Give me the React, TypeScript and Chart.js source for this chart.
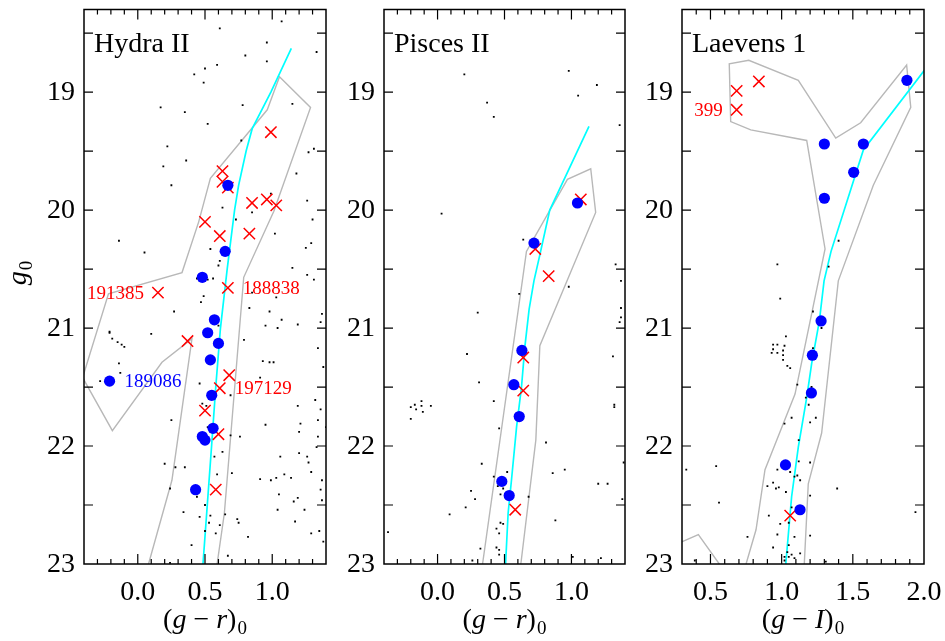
import React, { useEffect, useRef } from 'react';
import { Chart, registerables } from 'chart.js';

Chart.register(...registerables);

type P = [number, number]; // [colour index, g0]

const SERIF = "'Liberation Serif', 'DejaVu Serif', serif";
const RED = '#ff0000';
const BLUE = '#0000ff';

// ---- axis tick labels ----
const yTickLabels = [19, 20, 21, 22, 23];
const grTickLabels = [0.0, 0.5, 1.0];
const giTickLabels = [0.5, 1.0, 1.5, 2.0];

// ---- Hydra II ----
const hydraField: P[] = [
  [0.61,18.46],[1.07,18.40],[0.96,18.58],[1.33,18.66],[0.80,18.69],[0.96,18.74],[0.59,18.77],[0.50,18.80],[0.42,18.85],[0.49,18.92],
  [0.17,19.13],[0.78,19.11],[1.15,19.10],[0.35,19.17],[0.52,19.27],[0.22,19.46],[0.77,19.41],[1.27,19.51],[1.31,19.48],[0.19,19.63],
  [0.36,19.58],[0.25,19.79],[1.18,19.69],[0.99,19.86],[0.85,20.02],[1.26,19.92],[0.63,19.98],[0.73,20.08],[1.30,20.08],[1.02,20.20],
  [-0.14,20.26],[0.05,20.36],[0.54,20.33],[0.61,20.43],[0.60,20.47],[1.25,20.32],[1.29,20.28],[1.15,20.49],[1.26,20.55],[1.31,20.59],
  [0.44,20.58],[0.52,20.59],[0.56,20.58],[0.49,20.73],[0.85,20.70],[1.03,20.74],[0.47,20.78],[0.27,20.86],[0.83,20.83],[0.98,20.86],
  [1.07,20.93],[1.19,20.97],[1.37,20.88],[1.36,20.95],[0.95,20.98],[1.04,21.00],[0.60,20.98],[-0.21,21.03],[-0.21,21.04],[0.10,21.05],
  [-0.19,21.09],[-0.15,21.12],[-0.12,21.14],[-0.10,21.16],[0.79,21.10],[1.34,21.17],[0.93,21.28],[0.98,21.29],[1.01,21.29],[1.38,21.33],
  [-0.14,21.30],[-0.13,21.38],[-0.28,21.45],[0.91,21.42],[0.46,21.47],[0.69,21.57],[1.32,21.61],[1.36,21.69],[0.48,21.64],[0.51,21.66],
  [1.19,21.66],[0.25,21.78],[0.95,21.82],[1.21,21.81],[1.34,21.78],[1.40,21.84],[1.20,21.88],[0.52,21.84],[0.69,21.91],[0.76,21.92],
  [1.34,21.92],[1.33,22.01],[0.63,22.05],[1.20,22.06],[1.26,22.09],[1.27,22.14],[1.06,22.09],[0.57,22.09],[0.20,22.15],[0.28,22.18],
  [0.35,22.18],[0.70,22.23],[0.59,22.24],[1.29,22.22],[1.09,22.24],[0.91,22.28],[0.99,22.29],[1.03,22.27],[1.14,22.27],[1.37,22.29],
  [0.24,22.36],[1.36,22.37],[0.44,22.43],[1.05,22.41],[1.16,22.47],[1.19,22.44],[1.37,22.46],[0.50,22.50],[1.04,22.54],[1.24,22.54],
  [0.34,22.56],[0.46,22.60],[0.65,22.58],[0.74,22.62],[0.75,22.65],[0.54,22.59],[0.53,22.65],[1.17,22.64],[0.61,22.67],[0.50,22.72],
  [0.58,22.74],[0.82,22.77],[1.29,22.74],[1.35,22.72],[0.40,22.84],[1.38,22.81],[0.67,22.93],[0.24,22.99]
];
const hydraMembers: P[] = [
  [0.67,19.79],[0.65,20.35],[0.48,20.57],[0.57,20.93],[0.52,21.04],[0.60,21.13],[0.54,21.27],[-0.21,21.45],
  [0.55,21.57],[0.56,21.85],[0.48,21.92],[0.50,21.95],[0.43,22.37]
];
const hydraOthers: P[] = [
  [0.99,19.34],[0.63,19.67],[0.63,19.76],[0.67,19.81],[0.85,19.94],[0.96,19.91],[1.03,19.96],[0.50,20.10],[0.61,20.22],
  [0.83,20.20],[0.67,20.66],[0.15,20.70],[0.37,21.11],[0.68,21.40],[0.61,21.51],[0.50,21.70],[0.60,21.90],[0.58,22.37]
];
const hydraIsochrone: P[] = [
  [1.142,18.63],[0.99,19.0],[0.851,19.31],[0.806,19.5],[0.75,19.79],[0.72,20.0],[0.665,20.5],[0.615,21.0],
  [0.58,21.5],[0.549,22.0],[0.517,22.5],[0.485,23.0]
];
const hydraBox: P[] = [
  [0.590,23.0],[0.644,22.57],[0.788,20.57],[1.012,20.01],[1.285,19.13],[1.054,18.87],[0.963,19.15],[0.540,19.73],
  [0.453,20.10],[0.329,20.53],[-0.218,20.71],[-0.41,21.42],[-0.189,21.87],[0.180,21.29],[0.403,21.09],[0.254,22.29],[0.080,23.0]
];
const hydraLabels = [
  { text: '191385', x: 0.15, y: 20.70, side: 'left', color: RED },
  { text: '188838', x: 0.67, y: 20.66, side: 'right', color: RED },
  { text: '189086', x: -0.21, y: 21.45, side: 'right', color: BLUE },
  { text: '197129', x: 0.61, y: 21.51, side: 'right', color: RED }
];

// ---- Pisces II ----
const piscesField: P[] = [
  [0.20,18.85],[0.98,18.82],[1.19,18.94],[1.05,19.03],[0.37,19.09],[0.42,19.21],[1.36,19.28],[0.03,20.03],[0.64,20.25],[1.33,20.46],
  [1.37,20.60],[0.98,20.65],[0.61,20.71],[1.37,20.83],[1.37,20.91],[1.36,20.95],[0.30,20.87],[0.22,21.22],[1.31,21.24],[0.31,21.46],
  [0.42,21.62],[-0.20,21.67],[-0.17,21.65],[-0.16,21.69],[-0.12,21.66],[-0.12,21.62],[-0.11,21.71],[-0.05,21.66],[-0.20,21.77],[1.32,21.65],
  [1.32,21.67],[0.46,21.85],[0.81,21.97],[0.33,22.15],[1.39,22.14],[0.52,22.22],[0.86,22.23],[0.95,22.20],[0.42,22.26],[0.45,22.34],
  [0.49,22.36],[0.47,22.41],[1.20,22.32],[1.27,22.32],[0.25,22.38],[0.28,22.45],[0.68,22.43],[1.38,22.45],[0.21,22.52],[0.09,22.58],
  [0.88,22.63],[-0.37,22.73],[0.47,22.65],[0.49,22.66],[0.44,22.70],[0.46,22.74],[0.32,22.87],[0.44,22.86],[0.46,22.88],[0.46,22.92],
  [0.26,22.97],[1.01,22.94],[1.22,22.95]
];
const piscesMembers: P[] = [
  [1.045,19.94],[0.72,20.28],[0.63,21.19],[0.57,21.48],[0.61,21.75],[0.48,22.30],[0.535,22.42]
];
const piscesOthers: P[] = [
  [1.07,19.91],[0.73,20.33],[0.83,20.56],[0.64,21.25],[0.64,21.53],[0.58,22.54]
];
const piscesIsochrone: P[] = [
  [1.131,19.29],[0.838,20.0],[0.764,20.38],[0.72,20.6],[0.684,20.84],[0.652,21.16],[0.627,21.5],[0.59,21.84],
  [0.552,22.29],[0.527,22.57],[0.508,23.0]
];
const piscesBox: P[] = [
  [0.336,23.0],[0.664,20.35],[0.970,19.74],[1.144,19.65],[1.181,20.02],[0.764,21.15],[0.734,21.95],[0.622,23.0]
];

// ---- Laevens 1 ----
const laevensField: P[] = [
  [1.40,20.26],[0.97,20.46],[1.33,20.48],[0.99,20.75],[1.22,20.86],[1.03,21.07],[1.28,21.00],[0.94,21.14],[0.97,21.14],[1.02,21.15],
  [0.94,21.18],[1.01,21.19],[0.93,21.21],[0.97,21.21],[1.01,21.23],[1.01,21.27],[1.04,21.32],[1.06,21.34],[1.22,21.17],[1.11,21.48],
  [1.21,21.50],[1.17,21.59],[1.19,21.65],[1.07,21.76],[1.02,21.81],[1.24,21.76],[1.20,21.80],[1.12,21.95],[1.12,22.13],[1.20,22.14],
  [0.33,22.20],[0.54,22.17],[0.97,22.20],[1.06,22.22],[1.09,22.26],[1.11,22.25],[1.13,22.29],[0.90,22.34],[0.94,22.31],[0.96,22.36],
  [0.98,22.35],[1.03,22.39],[1.39,22.36],[1.20,22.42],[0.56,22.48],[1.07,22.52],[0.91,22.59],[1.05,22.65],[0.99,22.66],[1.94,22.56],
  [1.09,22.77],[0.97,22.75],[1.20,22.76],[0.76,22.77],[1.05,22.84],[0.94,22.86],[1.13,22.91],[1.07,22.92],[1.04,22.90],[1.02,22.94],
  [1.05,22.94],[1.09,22.95],[1.02,22.97],[1.31,22.98],[0.39,22.97]
];
const laevensMembers: P[] = [
  [1.88,18.90],[1.30,19.44],[1.574,19.44],[1.506,19.68],[1.30,19.90],[1.277,20.94],[1.216,21.23],[1.209,21.55],[1.027,22.16],[1.129,22.54]
];
const laevensOthers: P[] = [
  [0.84,18.91],[0.684,18.99],[0.684,19.15],[1.06,22.59]
];
const laevensIsochrone: P[] = [
  [2.1,18.66],[2.0,18.82],[1.574,19.49],[1.347,20.35],[1.298,20.6],[1.265,20.94],[1.211,21.3],[1.176,21.59],
  [1.117,22.01],[1.070,22.43],[1.029,23.0]
];
const laevensBox: P[] = [
  [0.750,23.0],[0.820,22.71],[0.883,22.20],[1.094,21.56],[1.305,20.33],[1.176,19.41],[0.783,19.32],[0.642,19.25],
  [0.632,18.76],[0.769,18.73],[1.117,18.90],[1.380,19.39],[1.555,19.26],[1.878,18.77],[1.907,19.13],[1.644,19.79],
  [1.398,20.60],[1.281,21.89],[1.187,22.32],[1.159,23.0]
];
const laevensBox2: P[] = [
  [0.2,22.865],[0.415,22.75],[0.562,23.0]
];
const laevensLabels = [
  { text: '399', x: 0.684, y: 19.15, side: 'left', color: RED }
];

interface Label { text: string; x: number; y: number; side: string; color: string; }
interface Panel {
  name: string; xMin: number; xMax: number; xTicks: number[]; xVar: string;
  field: P[]; members: P[]; others: P[]; iso: P[]; boxes: P[][]; labels: Label[];
  yTitle: boolean; left: number; width: number; yAxisWidth: number; padRight: number;
}

const panels: Panel[] = [
  { name: 'Hydra II', xMin: -0.4, xMax: 1.4, xTicks: grTickLabels, xVar: 'r', field: hydraField, members: hydraMembers,
    others: hydraOthers, iso: hydraIsochrone, boxes: [hydraBox], labels: hydraLabels, yTitle: true,
    left: 0, width: 340, yAxisWidth: 84, padRight: 14 },
  { name: 'Pisces II', xMin: -0.4, xMax: 1.4, xTicks: grTickLabels, xVar: 'r', field: piscesField, members: piscesMembers,
    others: piscesOthers, iso: piscesIsochrone, boxes: [piscesBox], labels: [], yTitle: false,
    left: 340, width: 300, yAxisWidth: 44, padRight: 15 },
  { name: 'Laevens 1', xMin: 0.3, xMax: 2.0, xTicks: giTickLabels, xVar: 'I', field: laevensField, members: laevensMembers,
    others: laevensOthers, iso: laevensIsochrone, boxes: [laevensBox, laevensBox2], labels: laevensLabels, yTitle: false,
    left: 640, width: 305, yAxisWidth: 42, padRight: 21 }
];

const Y_MIN = 18.3;
const Y_MAX = 23.0;

function makeDecor(p: Panel) {
  return {
    id: 'decor',
    afterDatasetsDraw(chart: any) {
      const ctx: CanvasRenderingContext2D = chart.ctx;
      const a = chart.chartArea;
      const xs = chart.scales.x;
      const ys = chart.scales.y;
      ctx.save();

      // star labels
      ctx.font = `19px ${SERIF}`;
      ctx.textBaseline = 'middle';
      for (const l of p.labels) {
        const px = xs.getPixelForValue(l.x);
        const py = ys.getPixelForValue(l.y);
        ctx.fillStyle = l.color;
        if (l.side === 'left') {
          ctx.textAlign = 'right';
          ctx.fillText(l.text, px - 14, py + 1);
        } else {
          ctx.textAlign = 'left';
          ctx.fillText(l.text, px + 15, py + 1);
        }
      }

      // panel name
      ctx.fillStyle = '#000';
      ctx.font = `28px ${SERIF}`;
      ctx.textAlign = 'left';
      ctx.textBaseline = 'alphabetic';
      ctx.fillText(p.name, a.left + 10, a.top + 42);

      // frame
      ctx.strokeStyle = '#000';
      ctx.lineWidth = 1.5;
      ctx.strokeRect(a.left, a.top, a.right - a.left, a.bottom - a.top);

      // inward ticks
      ctx.lineWidth = 1.2;
      ctx.beginPath();
      const n = Math.round((p.xMax - p.xMin) / 0.1);
      for (let i = 1; i < n; i++) {
        const v = p.xMin + i * 0.1;
        const major = Math.abs(v * 2 - Math.round(v * 2)) < 1e-6;
        const len = major ? 10 : 5;
        const px = xs.getPixelForValue(v);
        ctx.moveTo(px, a.bottom); ctx.lineTo(px, a.bottom - len);
        ctx.moveTo(px, a.top); ctx.lineTo(px, a.top + len);
      }
      for (let v = 18.5; v < Y_MAX - 1e-6; v += 0.5) {
        const py = ys.getPixelForValue(v);
        ctx.moveTo(a.left, py); ctx.lineTo(a.left + 9, py);
        ctx.moveTo(a.right, py); ctx.lineTo(a.right - 9, py);
      }
      ctx.stroke();

      // tick labels
      ctx.fillStyle = '#000';
      ctx.font = `28px ${SERIF}`;
      ctx.textBaseline = 'middle';
      ctx.textAlign = 'right';
      for (const v of yTickLabels) ctx.fillText(String(v), a.left - 9, ys.getPixelForValue(v) + 1);
      ctx.textAlign = 'center';
      for (const v of p.xTicks) ctx.fillText(v.toFixed(1), xs.getPixelForValue(v), a.bottom + 29);

      // x title: (g − r)0
      ctx.textAlign = 'left';
      ctx.textBaseline = 'alphabetic';
      const parts = [
        { t: '(', f: `28px ${SERIF}` },
        { t: 'g', f: `italic 28px ${SERIF}` },
        { t: ' \u2212 ', f: `28px ${SERIF}` },
        { t: p.xVar, f: `italic 28px ${SERIF}` },
        { t: ')', f: `28px ${SERIF}` }
      ];
      const subFont = `19px ${SERIF}`;
      let total = 0;
      const widths = parts.map((q) => { ctx.font = q.f; const w = ctx.measureText(q.t).width; total += w; return w; });
      ctx.font = subFont;
      const subW = ctx.measureText('0').width;
      total += subW + 1;
      let x = (a.left + a.right) / 2 - total / 2;
      const base = a.bottom + 64;
      parts.forEach((q, i) => { ctx.font = q.f; ctx.fillText(q.t, x, base); x += widths[i]; });
      ctx.font = subFont;
      ctx.fillText('0', x + 1, base + 6);

      // y title: g0
      if (p.yTitle) {
        ctx.save();
        ctx.translate(26, 273);
        ctx.rotate(-Math.PI / 2);
        ctx.font = `italic 28px ${SERIF}`;
        const gw = ctx.measureText('g').width;
        ctx.font = subFont;
        const zw = ctx.measureText('0').width;
        const tw = gw + zw + 1;
        ctx.font = `italic 28px ${SERIF}`;
        ctx.fillText('g', -tw / 2, 0);
        ctx.font = subFont;
        ctx.fillText('0', -tw / 2 + gw + 1, 6);
        ctx.restore();
      }
      ctx.restore();
    }
  };
}

function PanelChart({ p }: { p: Panel }) {
  const ref = useRef<HTMLCanvasElement>(null);
  useEffect(() => {
    const canvas = ref.current;
    if (!canvas) return;
    const toXY = (arr: P[]) => arr.map(([x, y]) => ({ x, y }));
    const datasets: any[] = [];
    p.boxes.forEach((b) => datasets.push({
      data: toXY(b), showLine: true, borderColor: '#b8b8b8', borderWidth: 1.4,
      pointRadius: 0, tension: 0, order: 5, fill: false
    }));
    datasets.push({
      data: toXY(p.iso), showLine: true, borderColor: '#00ffff', borderWidth: 1.7,
      pointRadius: 0, tension: 0, order: 4, fill: false
    });
    datasets.push({
      data: toXY(p.field), pointStyle: 'rect', pointRadius: 1.3, backgroundColor: '#000',
      borderWidth: 0, order: 3
    });
    datasets.push({
      data: toXY(p.others), pointStyle: 'crossRot', pointRadius: 8, borderColor: RED,
      backgroundColor: RED, borderWidth: 1.5, order: 2
    });
    datasets.push({
      data: toXY(p.members), pointStyle: 'circle', pointRadius: 5.6, backgroundColor: BLUE,
      borderWidth: 0, order: 1
    });

    const chart = new Chart(canvas, {
      type: 'scatter',
      data: { datasets },
      options: {
        animation: false,
        responsive: false,
        events: [],
        layout: { padding: { left: 0, right: p.padRight, top: 7, bottom: 0 } },
        plugins: { legend: { display: false }, tooltip: { enabled: false } },
        scales: {
          x: {
            type: 'linear', position: 'bottom', min: p.xMin, max: p.xMax,
            grid: { display: false, drawTicks: false }, border: { display: false },
            ticks: { display: false },
            afterBuildTicks: (s: any) => { s.ticks = p.xTicks.map((v) => ({ value: v })); },
            afterFit: (s: any) => { s.height = 77; }
          },
          y: {
            type: 'linear', position: 'left', reverse: true, min: Y_MIN, max: Y_MAX,
            grid: { display: false, drawTicks: false }, border: { display: false },
            ticks: { display: false },
            afterBuildTicks: (s: any) => { s.ticks = yTickLabels.map((v) => ({ value: v })); },
            afterFit: (s: any) => { s.width = p.yAxisWidth; }
          }
        }
      } as any,
      plugins: [makeDecor(p)]
    });
    return () => chart.destroy();
  }, [p]);
  return (
    <canvas
      ref={ref}
      width={p.width}
      height={641}
      style={{ position: 'absolute', left: p.left, top: 0, width: p.width, height: 641 }}
    />
  );
}

export default function App() {
  return (
    <div style={{ position: 'absolute', left: 0, top: 0, width: 945, height: 641, background: '#fff' }}>
      {panels.map((p) => <PanelChart key={p.name} p={p} />)}
    </div>
  );
}
